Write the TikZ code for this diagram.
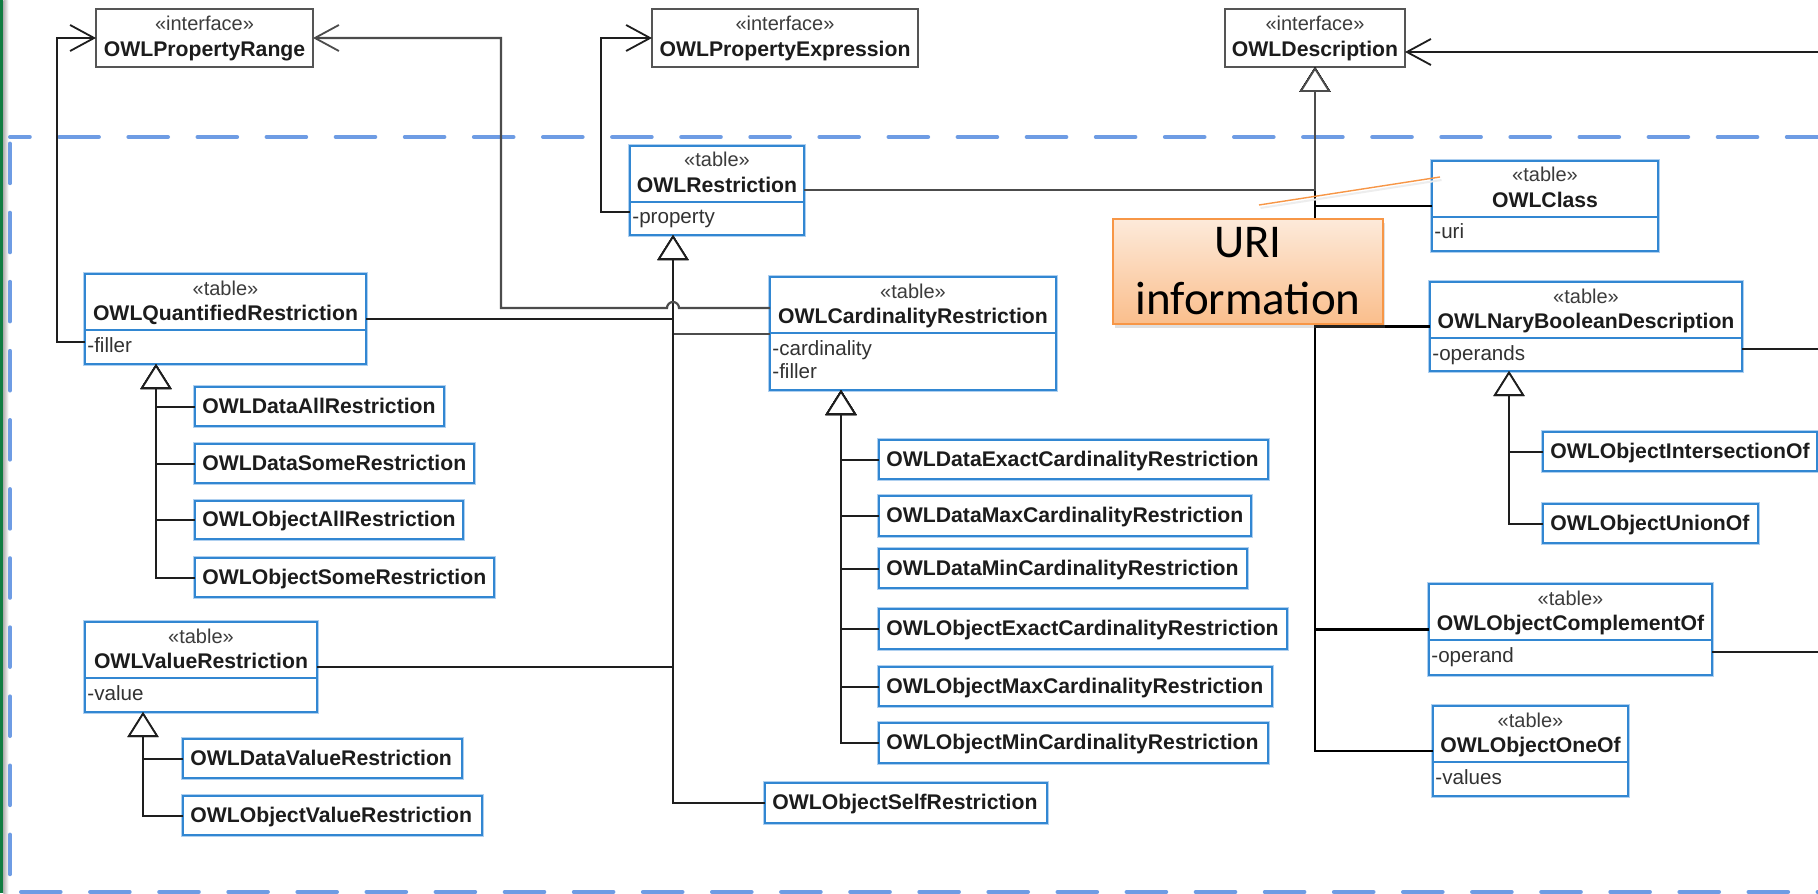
\documentclass[tikz,border=0pt]{standalone}
\usepackage{fontspec}
\setmainfont{Liberation Sans}
\newfontfamily\calibrifont{Carlito}
\usetikzlibrary{arrows.meta,calc,shadows}

\definecolor{boxblue}{RGB}{50,135,210}
\definecolor{halo}{RGB}{175,208,240}
\definecolor{ifgray}{RGB}{85,85,85}
\definecolor{dashblue}{RGB}{110,156,228}
\definecolor{xlgreen}{RGB}{16,124,65}
\definecolor{calloutborder}{RGB}{247,150,70}
\definecolor{callouttop}{RGB}{253,234,218}
\definecolor{calloutbot}{RGB}{250,190,140}
\definecolor{ink}{RGB}{28,28,28}
\definecolor{stereogray}{RGB}{60,60,60}
\definecolor{attrgray}{RGB}{50,50,50}
\definecolor{linegray}{RGB}{30,30,30}

\tikzset{
  tablebox/.style={draw=boxblue, line width=0.9pt, fill=white, inner sep=0pt, outer sep=0pt,
                   preaction={draw=halo, line width=2pt}},
  ifbox/.style={draw=ifgray, line width=1.1pt, fill=white, inner sep=0pt, outer sep=0pt},
  sepline/.style={draw=boxblue, line width=0.9pt},
  namefont/.style={font=\fontsize{10.6}{12}\selectfont\bfseries, text=ink, inner sep=0pt},
  stereofont/.style={font=\fontsize{10}{12}\selectfont, text=stereogray, inner sep=0pt},
  attrfont/.style={font=\fontsize{10.3}{12}\selectfont, text=attrgray, inner sep=0pt},
  conn/.style={draw=linegray, line width=1pt},
  thickconn/.style={draw=black, line width=1.3pt},
  gentip/.style={-{Triangle[fill=white, length=12.5pt, width=15.5pt, line width=0.9pt]}},
  assoc/.style={conn, -{Straight Barb[length=12pt, width=13pt, line width=0.9pt]}},
  dashln/.style={draw=dashblue, line width=2pt, line cap=round, dash pattern=on 19.8pt off 14.75pt},
  calloutbox/.style={draw=calloutborder, line width=0.8pt, top color=callouttop, bottom color=calloutbot,
                     align=center, inner sep=0pt, outer sep=0pt,
                     font=\calibrifont\fontsize{23.5}{28.5}\selectfont,
                     drop shadow={shadow xshift=1.2pt, shadow yshift=-2pt, opacity=0.25}},
}

% sub class box: name, x1, y1, x2, y2, text
\newcommand\subcls[6]{%
  \pgfmathsetmacro\bw{(#4-#2)*0.5}%
  \pgfmathsetmacro\bh{(#5-#3)*0.5}%
  \node[tablebox, anchor=north west, minimum width=\bw pt, minimum height=\bh pt] (#1) at (#2,#3) {};
  \node[namefont, anchor=base west] (#1-t) at ($(#1.west)+(7,6.6)$) {#6};
}
% table class: name, x1, y1, x2, y2, class name, attribute
\newcommand\tblcls[7]{%
  \pgfmathsetmacro\bw{(#4-#2)*0.5}%
  \pgfmathsetmacro\bh{(#5-#3)*0.5}%
  \node[tablebox, anchor=north west, minimum width=\bw pt, minimum height=\bh pt] (#1) at (#2,#3) {};
  \draw[sepline] ($(#1.north west)+(0,56)$) -- ($(#1.north east)+(0,56)$);
  \node[stereofont, anchor=base] (#1-s) at ($(#1.north)+(0,21)$) {«table»};
  \node[namefont, anchor=base] (#1-n) at ($(#1.north)+(0,46.5)$) {#6};
  \node[attrfont, anchor=base west] (#1-a) at ($(#1.north west)+(2,78)$) {#7};
}
% interface: name, x1, x2, text
\newcommand\ifcls[4]{%
  \pgfmathsetmacro\bw{(#3-#2)*0.5}%
  \node[ifbox, anchor=north west, minimum width=\bw pt, minimum height=29pt] (#1) at (#2,9) {};
  \node[stereofont, anchor=base] (#1-s) at ($(#1.north)+(0,22)$) {«interface»};
  \node[namefont, anchor=base] (#1-n) at ($(#1.north)+(0,48)$) {#4};
}

\begin{document}
\begin{tikzpicture}[x=0.5pt, y=-0.5pt]
\useasboundingbox (0,0) rectangle (1818,893);
\fill[white] (0,0) rectangle (1818,893);

% left window edge
\fill[xlgreen] (0,0) rectangle (3.3,893);
\shade[left color=black!30, right color=white] (3.3,0) rectangle (8.5,893);

% dashed package frame
\draw[dashln, dash phase=9.9pt] (10,137) -- (1840,137);
\draw[dashln, dash phase=31.25pt] (10,137) -- (10,900);
\draw[dashln, dash phase=29.05pt] (10,892) -- (1840,892);

% interfaces
\ifcls{pr}{96}{313}{OWLPropertyRange}
\ifcls{pe}{652}{918}{OWLPropertyExpression}
\ifcls{od}{1225}{1405}{OWLDescription}

% table classes
\tblcls{rs}{630}{146}{804}{235}{OWLRestriction}{-property}
\tblcls{qr}{85}{274}{366}{364}{OWLQuantifiedRestriction}{-filler}
\pgfmathsetmacro\bw{(1056-770)*0.5}
\node[tablebox, anchor=north west, minimum width=\bw pt, minimum height=56.5pt] (cr) at (770,277) {};
\draw[sepline] ($(cr.north west)+(0,56)$) -- ($(cr.north east)+(0,56)$);
\node[stereofont, anchor=base] (cr-s) at ($(cr.north)+(0,21)$) {«table»};
\node[namefont, anchor=base] (cr-n) at ($(cr.north)+(0,46.5)$) {OWLCardinalityRestriction};
\node[attrfont, anchor=base west] (cr-a) at ($(cr.north west)+(2,78)$) {-cardinality};
\node[attrfont, anchor=base west] (cr-b) at ($(cr.north west)+(2,101)$) {-filler};
\tblcls{vr}{85}{622}{317}{712}{OWLValueRestriction}{-value}
\tblcls{oc}{1432}{161}{1658}{251}{OWLClass}{-uri}
\tblcls{nb}{1430}{282}{1742}{371}{OWLNaryBooleanDescription}{-operands}
\tblcls{co}{1429}{584}{1712}{675}{OWLObjectComplementOf}{-operand}
\tblcls{oo}{1433}{706}{1628}{796}{OWLObjectOneOf}{-values}

% leaf classes
\subcls{dar}{195}{387}{444}{426}{OWLDataAllRestriction}
\subcls{dsr}{195}{444}{474}{483}{OWLDataSomeRestriction}
\subcls{oar}{195}{501}{463}{539}{OWLObjectAllRestriction}
\subcls{osr}{195}{558}{494}{597}{OWLObjectSomeRestriction}
\subcls{dvr}{183}{739}{462}{778}{OWLDataValueRestriction}
\subcls{ovr}{183}{796}{482}{835}{OWLObjectValueRestriction}
\subcls{sr}{765}{783}{1047}{823}{OWLObjectSelfRestriction}
\subcls{dec}{879}{440}{1268}{479}{OWLDataExactCardinalityRestriction}
\subcls{dmx}{879}{496}{1251}{536}{OWLDataMaxCardinalityRestriction}
\subcls{dmn}{879}{549}{1247}{588}{OWLDataMinCardinalityRestriction}
\subcls{oec}{879}{609}{1287}{649}{OWLObjectExactCardinalityRestriction}
\subcls{omx}{879}{667}{1272}{706}{OWLObjectMaxCardinalityRestriction}
\subcls{omn}{879}{723}{1268}{763}{OWLObjectMinCardinalityRestriction}
\subcls{oi}{1543}{432}{1817}{471}{OWLObjectIntersectionOf}
\subcls{ou}{1543}{504}{1758}{543}{OWLObjectUnionOf}

% connection points
\coordinate (qrG) at ($(qr.south west)+(71,0)$);
\coordinate (rsG) at ($(rs.south west)+(43,0)$);
\coordinate (crG) at ($(cr.south west)+(71,0)$);
\coordinate (vrG) at ($(vr.south west)+(58,0)$);
\coordinate (nbG) at ($(nb.south west)+(79,0)$);
\coordinate (qrF) at ($(qr.north west)+(0,68)$);
\coordinate (rsP) at ($(rs.north west)+(0,66)$);
\coordinate (crF) at ($(cr.north west)+(0,31)$);
\coordinate (nbO) at ($(nb.north east)+(0,67)$);
\coordinate (coO) at ($(co.north east)+(0,68)$);
\coordinate (odR) at ($(od.south east)+(0,-15)$);
\coordinate (prLoop) at ($(pr.east)+(188,0)$);
\coordinate (rightedge) at (1830,0);

% generalisations
\foreach \c in {dar,dsr,oar,osr} \draw[conn, gentip] (\c.west) -| (qrG);
\foreach \c in {dvr,ovr} \draw[conn, gentip] (\c.west) -| (vrG);
\foreach \c in {dec,dmx,dmn,oec,omx,omn} \draw[conn, gentip] (\c.west) -| (crG);
\foreach \c in {oi,ou} \draw[conn, gentip] (\c.west) -| (nbG);
\draw[conn, gentip] (qr.east) -| (rsG);
\draw[conn, draw=black!70, gentip] (cr.west) -| (rsG);
\draw[conn, gentip] (vr.east) -| (rsG);
\draw[conn, gentip] (sr.west) -| (rsG);
\draw[thickconn, gentip] (oo.west) -| (od.south);
\draw[thickconn, gentip] (co.west) -| (od.south);
\draw[thickconn, gentip] (nb.west) -| (od.south);
\draw[thickconn, gentip] (oc.west) -| (od.south);
\draw[conn, draw=black!70, gentip] (rs.east) -| (od.south);

% associations
\draw[assoc] (qrF) -- ++(-28.5,0) |- (pr.west);
\draw[assoc] (rsP) -- ++(-29,0) |- (pe.west);
\draw[assoc, draw=black!70, line width=1.1pt] (crF) -- ($(crF -| rsG)+(6,0)$)
   arc[start angle=0, end angle=180, radius=3pt] -- (crF -| prLoop) |- (pr.east);
\draw[assoc] (odR -| rightedge) -- (odR);
\draw[conn] (nbO) -- (nbO -| rightedge);
\draw[conn] (coO) -- (coO -| rightedge);

% callout
\node[calloutbox, anchor=north west, minimum width=135pt, minimum height=52.5pt] (uri) at (1113,219) {URI\\information};
\coordinate (uriA) at (1259,205);
\coordinate (uriB) at (1440,177);
\draw[black!7, line width=1pt] ($(uriA)+(1.5,3)$) -- ($(uriB)+(1.5,3)$);
\draw[calloutborder, line width=0.7pt] (uriA) -- (uriB);
\end{tikzpicture}
\end{document}
